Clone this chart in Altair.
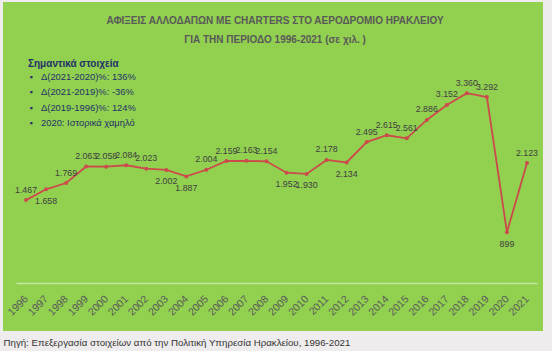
import altair as alt
import pandas as pd

years = [str(y) for y in range(1996, 2022)]
arrivals = [1467, 1658, 1769, 2063, 2058, 2084, 2023, 2002, 1887, 2004, 2159, 2163,
            2154, 1952, 1930, 2178, 2134, 2495, 2615, 2561, 2886, 3152, 3360, 3292,
            899, 2123]
below_years = ["1997", "2003", "2004", "2009", "2010", "2012", "2020"]

title_lines = ["ΑΦΙΞΕΙΣ ΑΛΛΟΔΑΠΩΝ ΜΕ CHARTERS ΣΤΟ ΑΕΡΟΔΡΟΜΙΟ ΗΡΑΚΛΕΙΟΥ",
               "ΓΙΑ ΤΗΝ ΠΕΡΙΟΔΟ 1996-2021 (σε χιλ. )"]
legend_header = "Σημαντικά στοιχεία"
legend_lines = ["Δ(2021-2020)%: 136%", "Δ(2021-2019)%: -36%",
                "Δ(2019-1996)%: 124%", "2020: Ιστορικά χαμηλό"]
source_text = "Πηγή: Επεξεργασία στοιχείων από την Πολιτική Υπηρεσία Ηρακλείου, 1996-2021"

FONT = "Liberation Sans"

df = pd.DataFrame({
    "year": years,
    "value": arrivals,
    "pos": ["below" if y in below_years else "above" for y in years],
})
dummy = pd.DataFrame({"a": [0]})

x_enc = alt.X("year:N", sort=years,
              axis=alt.Axis(title=None, ticks=False, labelAngle=-45,
                            labelAlign="right", labelBaseline="middle",
                            labelPadding=14, labelColor="#5A5A5A",
                            labelFont=FONT, labelFontSize=10.5,
                            domainColor="#C4E6A4", domainWidth=1.5,
                            grid=False, zindex=1))
y_enc = alt.Y("value:Q", scale=alt.Scale(domain=[0, 4000]), axis=None)

panel = alt.Chart(dummy).mark_rect(color="#92D050").encode(
    x=alt.value(-13), x2=alt.value(527), y=alt.value(-55), y2=alt.value(274))

base = alt.Chart(df).encode(x=x_enc, y=y_enc)
line = base.mark_line(color="#CC4A4C", strokeWidth=1.8)
pts = base.mark_point(color="#CC4A4C", filled=True, opacity=1, size=16)

lab_fmt = "replace(format(datum.value, ','), ',', '.')"
above = base.transform_filter("datum.pos == 'above'").transform_calculate(
    lab=lab_fmt).mark_text(dy=-10.5, font=FONT, fontSize=8.8, color="#404040"
                           ).encode(text="lab:N")
below = base.transform_filter("datum.pos == 'below'").transform_calculate(
    lab=lab_fmt).mark_text(dy=11.5, font=FONT, fontSize=8.8, color="#404040"
                           ).encode(text="lab:N")

title = alt.Chart(dummy).mark_text(
    text=title_lines, lineHeight=19, font=FONT, fontSize=10, fontWeight="bold",
    color="#595959", align="center", baseline="middle").encode(
    x=alt.value(259), y=alt.value(-36.5))

header = alt.Chart(dummy).mark_text(
    text=legend_header, font=FONT, fontSize=10, fontWeight="bold",
    color="#1F3068", align="left", baseline="middle").encode(
    x=alt.value(12), y=alt.value(7))

bullets = alt.Chart(dummy).mark_text(
    text=["▪"] * len(legend_lines), lineHeight=15.3, fontSize=9,
    color="#1F3068", align="center", baseline="middle").encode(
    x=alt.value(15), y=alt.value(20))

legend_txt = alt.Chart(dummy).mark_text(
    text=legend_lines, lineHeight=15.3, font=FONT, fontSize=9.4,
    color="#1F3068", align="left", baseline="middle").encode(
    x=alt.value(25), y=alt.value(20))

source = alt.Chart(dummy).mark_text(
    text=source_text, font=FONT, fontSize=9.7, color="#333333",
    align="left", baseline="middle").encode(
    x=alt.value(-12.5), y=alt.value(286))

chart = alt.layer(panel, line, pts, above, below, title, header, bullets,
                  legend_txt, source).properties(
    width=521, height=226,
    autosize=alt.AutoSizeParams(type="none"),
    padding={"left": 16, "top": 57, "right": 15, "bottom": 68},
    background="#EEECEC",
).configure_view(stroke=None)

chart.save("out.html", embed_options={"renderer": "svg", "actions": False})
